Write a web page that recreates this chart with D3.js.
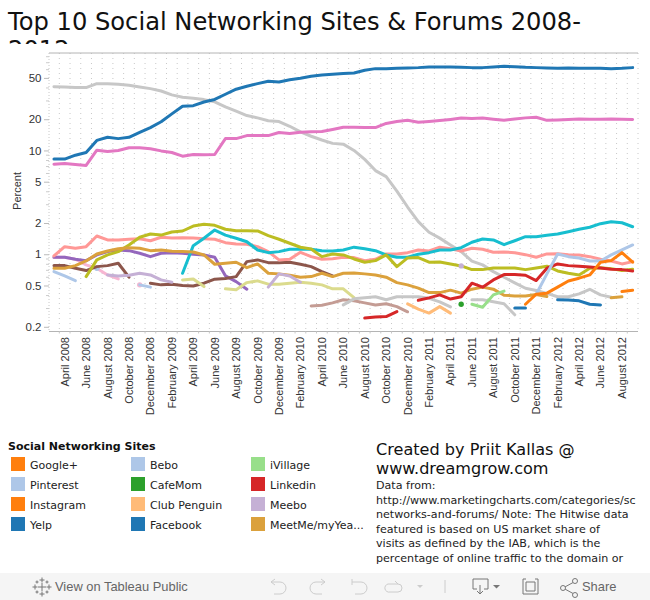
<!DOCTYPE html>
<html>
<head>
<meta charset="utf-8">
<script src="https://cdnjs.cloudflare.com/ajax/libs/d3/7.8.5/d3.min.js"></script>
<style>
  html, body { margin: 0; padding: 0; background: #fff; }
  svg { display: block; }
  text { font-family: "DejaVu Sans", sans-serif; }
  .arial { font-family: "Liberation Sans", Arial, sans-serif; }
</style>
</head>
<body>
<div id="chart"></div>
<script>
const gap = k => Array(k).fill(null);

const months = d3.timeMonth.range(new Date(2008, 2, 1), new Date(2012, 9, 1));
const yTicks = [50, 20, 10, 5, 2, 1, 0.5, 0.2];
const yMinorTicks = [80, 70, 60, 40, 30, 9, 8, 7, 6, 4, 3, 0.9, 0.8, 0.7, 0.6, 0.4, 0.3];

// Percent share per month, March 2008 to September 2012
const facebook = [8.25,8.25,9.0,9.55,12.5,13.4,13.0,13.4,14.9,16.6,18.9,22.5,26.7,27,29.3,31,34.8,38.9,41.6,44,46.4,45.6,48,49.6,51.8,53.3,54.2,55,55.7,59.2,61.4,61.4,61.8,62.3,62.8,63.7,63.7,63.7,63.2,62.8,62.8,63.7,64.6,64.2,63.2,62.8,62.3,61.8,62.3,61.8,61.8,61.8,61.4,61.8,62.8];
const pinkLine = [7.38,7.5,7.33,7.17,10.07,9.77,10,10.6,10.6,10.4,9.9,9.56,8.81,9.14,9.08,9.14,13,13,13.9,13.9,13.9,14.9,14.6,15,15.1,15.2,15.9,16.7,16.7,16.6,16.6,18.2,19,19.5,18.7,19,19.4,19.9,20.5,20.3,20.5,20,19.5,20.1,20.6,20.9,19.5,19.7,19.9,20.1,20,20,20.1,20,19.9];
const grayLine = [41.2,40.9,40.3,40.3,44,44,43.4,42.5,40.9,39.4,37.4,34.3,32.5,31.8,30.9,29.4,26.3,23.9,21.7,20.6,19.3,19,17.1,15.1,13.7,12.6,11.7,11.5,10,8.2,6.4,5.6,4.06,2.85,2.06,1.63,1.43,1.23,1.06,.86,.79,.68,.6,.53,.47,.447,.42,.39,.39,.415,.46,.406,.386,null,null];
const grayLine2 = [...gap(27),.325,.372,.38,.389,.364,.389,.389,.389,.376,.348,.311,null,.364,.364,.348,.333,.261,...gap(11)];
const mauveLine = [...gap(24),.318,.323,.34,.364,.356,.34,.325,.333,.313,.279,...gap(21)];
const cyanLine = [...gap(12),.656,1.21,1.425,1.71,1.53,1.425,1.32,1.1,1.036,1.06,1.117,1.117,1.117,1.083,1.076,1.1,1.17,1.13,1.083,.985,.936,.936,1.0,1.036,1.1,1.1,1.157,1.304,1.403,1.373,1.237,1.35,1.477,1.477,1.523,1.567,1.649,1.74,1.82,1.97,2.06,2.01,1.84];
const salmonLine = [.963,1.183,1.142,1.183,1.5,1.373,1.373,1.394,1.41,1.35,1.457,1.435,1.444,1.435,1.41,1.394,1.293,1.256,1.248,1.183,1.06,.882,.895,1.045,.948,.895,.907,.936,.928,.868,.895,1.007,1.007,1.036,1.1,1.076,1.168,1.13,1.076,1.142,1.117,1.045,1.052,1.036,.991,.936,1.007,1.013,.991,.985,.948,.895,.862,.807,.849];
const oliveLine = [...gap(3),.609,.882,.985,1.06,1.229,1.457,1.567,1.53,1.64,1.675,1.87,1.943,1.899,1.74,1.687,1.687,1.675,1.51,1.394,1.276,1.168,1.125,.948,1.007,.985,.901,.838,.868,.985,.76,.921,.928,.838,.843,.807,.772,.711,.711,.738,.738,.738,.711,.738,.767,.691,.656,.632,.733,.743,.727,.696,.717];
const meetMe = [.733,.733,.777,.862,1.007,1.076,1.13,1.157,1.142,1.083,1.1,1.069,1.06,1.052,.985,.801,.819,.838,.743,.807,.656,.647,.628,.601,.609,.656,.609,.656,.661,.647,.632,.601,.533,.507,.471,.427,.427,.451,.422,.461,.482,.461,.403,.397,.397,.409,.391,null,null,null,null,null,.38,.389,null];
const purpleLine = [.936,.936,.895,.868,.985,1.06,1.1,1.083,1.022,.948,1.022,1.036,1.022,1.0,.985,.936,.619,.545,.461,...gap(36)];
const brownLine = [.777,.777,.733,.696,.76,.777,.819,.601,null,.526,.507,.515,.499,.495,.526,.575,.583,.609,.849,.882,.83,.83,.838,.801,.76,.68,.619,...gap(28)];
const lightPink = [.936,.936,.895,.789,.733,.632,.578,null,.507,...gap(46)];
const bebo = [.68,.618,.557,null,.733,null,null,null,.507,.482,...gap(45)];
const meebo = [...gap(5),.632,.618,.628,.656,.632,.566,.538,...gap(8),.482,.647,.618,.538,...gap(14),.772,...gap(16)];
const paleOlive = [...gap(12),.566,.578,.488,null,.464,.454,.533,.554,.515,.515,.526,.538,.526,.507,.464,.464,.382,...gap(26)];
const clubPenguin = [...gap(33),.333,.296,.271,.313,.271,...gap(17)];
const linkedin = [...gap(29),.243,.249,.251,.28,null,.36,.38,.406,.37,.39,.526,.482,.566,.637,.637,.628,.558,.733,.807,.777,.767,.755,.738,.717,.711,.69];
const iVillage = [...gap(39),.33,.309,.406,.441,...gap(12)];
const cafeMom = [...gap(38),.33,...gap(16)];
const yelp = [...gap(43),.303,.303,null,null,.364,.362,.356,.33,.325,...gap(3)];
const googlePlus = [...gap(44),.33,.412,.422,.482,.553,.588,.632,.838,.868,1.036,.838];
const pinterest = [...gap(45),.412,.647,1.007,.948,.921,.862,.862,.985,1.1,1.229];
const instagram = [...gap(53),.437,.451];

// bottom to top
const series = [
  [lightPink, "#f7b6d2"], [bebo, "#aec7e8"], [purpleLine, "#9467bd"], [brownLine, "#8c564b"],
  [paleOlive, "#dbdb8d"], [mauveLine, "#c49c94"], [grayLine2, "#c7c7c7"], [grayLine, "#c7c7c7"],
  [salmonLine, "#ff9896"], [cyanLine, "#17becf"], [oliveLine, "#bcbd22"], [meetMe, "#dba13c"],
  [meebo, "#c5b0d5"], [linkedin, "#d62728"], [iVillage, "#98df8a"], [clubPenguin, "#ffbb78"],
  [cafeMom, "#2ca02c"], [pinkLine, "#e377c2"], [facebook, "#1f77b4"], [yelp, "#1f77b4"],
  [instagram, "#ff7f0e"], [pinterest, "#aec7e8"], [googlePlus, "#ff7f0e"]
];

const legendNames = ["Google+", "Pinterest", "Instagram", "Yelp", "Bebo", "CafeMom", "Club Penguin", "Facebook", "iVillage", "Linkedin", "Meebo", "MeetMe/myYea..."];
const legendColors = ["#ff7f0e", "#aec7e8", "#ff7f0e", "#1f77b4", "#aec7e8", "#2ca02c", "#ffbb78", "#1f77b4", "#98df8a", "#d62728", "#c5b0d5", "#dba13c"];

const noteLines = [
  "Data from:",
  "http://www.marketingcharts.com/categories/sc",
  "networks-and-forums/ Note: The Hitwise data",
  "featured is based on US market share of",
  "visits as defined by the IAB, which is the",
  "percentage of online traffic to the domain or"
];

const width = 650, height = 600;
const svg = d3.select("#chart").append("svg").attr("width", width).attr("height", height);

svg.append("defs").append("clipPath").attr("id", "title-clip").append("rect").attr("width", width).attr("height", 44);

// title, second line cut off as in the dashboard
const title = svg.append("g").attr("clip-path", "url(#title-clip)");
title.append("text").attr("x", 8).attr("y", 30).attr("font-size", 24.2).attr("fill", "#111").text("Top 10 Social Networking Sites & Forums 2008-");
title.append("text").attr("x", 8).attr("y", 58).attr("font-size", 24.2).attr("fill", "#111").text("2012");

const x = d3.scaleBand().domain(months).range([48.6, 638]);
const y = d3.scaleLog().domain([0.2, 50]).range([326.8, 77.9]);
const plotTop = 53, plotBottom = 331.5;
const cx = d => x(d) + x.bandwidth() / 2;

// dotted month grid
svg.append("g").selectAll("line").data(months.slice(1).concat([null])).enter().append("line")
  .attr("x1", d => d ? x(d) : 638).attr("x2", d => d ? x(d) : 638)
  .attr("y1", plotTop).attr("y2", plotBottom)
  .attr("stroke", "#c8c8c8").attr("stroke-width", 1).attr("stroke-dasharray", "1,4");

// frame lines
svg.append("line").attr("x1", 49).attr("x2", 638).attr("y1", plotTop).attr("y2", plotTop).attr("stroke", "#b4b4b4");
svg.append("line").attr("x1", 49).attr("x2", 638).attr("y1", plotBottom).attr("y2", plotBottom).attr("stroke", "#b4b4b4");
svg.append("line").attr("x1", 49).attr("x2", 49).attr("y1", plotTop).attr("y2", plotBottom).attr("stroke", "#c8c8c8").attr("stroke-dasharray", "1,2");

// y axis
const yAxis = d3.axisLeft(y).tickValues(yTicks).tickFormat(d3.format("")).tickSize(5).tickPadding(2.5);
const yG = svg.append("g").attr("transform", "translate(49,0)").call(yAxis);
yG.select(".domain").remove();
yG.selectAll("line").attr("stroke", "#bbb");
yG.selectAll("text").attr("class", "arial").attr("font-size", 11.5).attr("fill", "#333");

svg.append("g").selectAll("line").data(yMinorTicks).enter().append("line")
  .attr("x1", 46).attr("x2", 49).attr("y1", d => y(d)).attr("y2", d => y(d)).attr("stroke", "#ccc");

svg.append("text").attr("class", "arial")
  .attr("transform", "translate(21,191) rotate(-90)")
  .attr("text-anchor", "middle").attr("font-size", 11).attr("fill", "#333").text("Percent");

// x axis labels
const monthFormat = d3.timeFormat("%B %Y");
svg.append("g").selectAll("text").data(months.filter((d, i) => i % 2 === 1)).enter().append("text")
  .attr("class", "arial")
  .attr("transform", d => `translate(${cx(d) + 4},337) rotate(-90)`)
  .attr("text-anchor", "end").attr("font-size", 11).attr("fill", "#333")
  .text(monthFormat);

// month ticks
svg.append("g").selectAll("line").data(months.slice(1)).enter().append("line")
  .attr("x1", d => x(d)).attr("x2", d => x(d)).attr("y1", plotBottom).attr("y2", plotBottom + 2).attr("stroke", "#c8c8c8");

// lines
const line = d3.line().defined(d => d.v !== null).x(d => cx(d.m)).y(d => y(d.v));
series.forEach(([values, color]) => {
  const pts = values.map((v, i) => ({ m: months[i], v }));
  const g = svg.append("g");
  g.append("path").attr("d", line(pts)).attr("fill", "none")
    .attr("stroke", color).attr("stroke-width", 3)
    .attr("stroke-linejoin", "round").attr("stroke-linecap", "round");
  // single months show as dots
  g.selectAll("circle")
    .data(pts.filter((d, i) => d.v !== null && (i === 0 || pts[i - 1].v === null) && (i === pts.length - 1 || pts[i + 1].v === null)))
    .enter().append("circle")
    .attr("cx", d => cx(d.m)).attr("cy", d => y(d.v)).attr("r", 2.7).attr("fill", color);
});

// legend
svg.append("text").attr("x", 8).attr("y", 450).attr("font-size", 11).attr("font-weight", "bold").attr("fill", "#111").text("Social Networking Sites");
const legend = svg.append("g").selectAll("g").data(legendNames).enter().append("g")
  .attr("transform", (d, i) => `translate(${11 + 120 * Math.floor(i / 4)},${457 + 20 * (i % 4)})`);
legend.append("rect").attr("width", 14).attr("height", 14).attr("fill", (d, i) => legendColors[i]);
legend.append("text").attr("x", 19).attr("y", 11.5).attr("font-size", 11).attr("fill", "#222").text(d => d);

// note block
const note = svg.append("g");
note.append("text").attr("x", 376).attr("y", 455).attr("font-size", 16.1).attr("fill", "#111").text("Created by Priit Kallas @");
note.append("text").attr("x", 376).attr("y", 474).attr("font-size", 16.1).attr("fill", "#111").text("www.dreamgrow.com");
note.selectAll(".n").data(noteLines).enter().append("text").attr("class", "n")
  .attr("x", 376).attr("y", (d, i) => 489 + i * 14.6)
  .attr("font-size", 11.1).attr("fill", "#222").text(d => d);

// toolbar
svg.append("rect").attr("y", 573).attr("width", width).attr("height", 27).attr("fill", "#f5f5f5");
svg.append("text").attr("class", "arial").attr("x", 55).attr("y", 591).attr("font-size", 12.9).attr("fill", "#666").text("View on Tableau Public");
svg.append("text").attr("class", "arial").attr("x", 582).attr("y", 591).attr("font-size", 12.9).attr("fill", "#666").text("Share");

const icon = (d, stroke) => svg.append("path").attr("d", d).attr("fill", "none").attr("stroke", stroke).attr("stroke-width", 1);
const plus = (px, py, r) => `M${px - r},${py}h${2 * r}M${px},${py - r}v${2 * r}`;
icon(plus(42, 587, 4) + plus(42, 580, 2.5) + plus(42, 594, 2.5) + plus(35, 587, 2.5) + plus(49, 587, 2.5)
  + plus(37, 582, 1.5) + plus(47, 582, 1.5) + plus(37, 592, 1.5) + plus(47, 592, 1.5), "#777");
icon("M271,582h9a6,6 0 0 1 0,12h-6M271,582l4,-3M271,582l4,3", "#ccc");
icon("M325,582h-9a6,6 0 0 0 0,12h6M325,582l-4,-3M325,582l-4,3", "#ccc");
icon("M352,579v6M352,582h9a6,6 0 0 1 0,12h-6", "#ccc");
icon("M388,584h10a4,4 0 0 1 0,8h-8a4,4 0 0 1 -2,-8M398,584l-3,-3", "#ccc");
svg.append("path").attr("d", "M417,585h6l-3,3z").attr("fill", "#ccc");
icon("M445,580v13", "#ccc");
icon("M473,579h15v10h-4M477,589h-4v-10M480,585v9M477,591l3,3l3,-3", "#777");
svg.append("path").attr("d", "M493,585h7l-3.5,3.5z").attr("fill", "#777");
icon("M526,579h-3v15h15v-15h-3M526,582h9v9h-9z", "#777");
icon("M563,588l11,-6M563,588l11,6", "#777");
[[563, 588], [575, 581], [575, 595]].forEach(p => svg.append("circle").attr("cx", p[0]).attr("cy", p[1]).attr("r", 2.5).attr("fill", "#f5f5f5").attr("stroke", "#777"));
</script>
</body>
</html>
